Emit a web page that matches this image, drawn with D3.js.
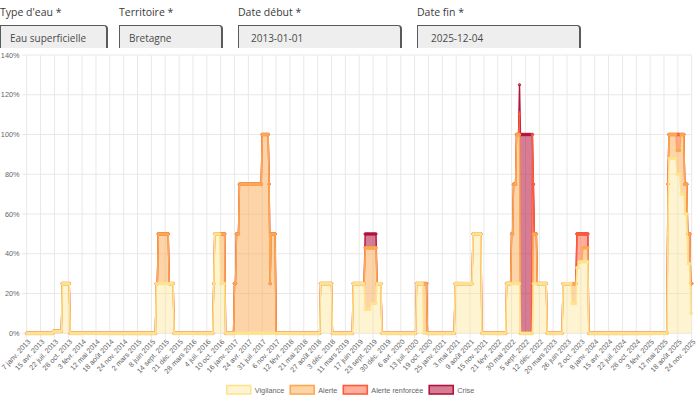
<!DOCTYPE html>
<html>
<head>
<meta charset="utf-8">
<script src="https://cdn.jsdelivr.net/npm/d3@7"></script>
<style>
  body { margin: 0; width: 700px; height: 399px; overflow: hidden; background: #fff; }
  #chart { position: absolute; left: 0; top: 0; }
  .field { position: absolute; top: 0; font-family: "Open Sans", sans-serif; }
  .field .lab { position: absolute; left: 0; top: 5px; font-size: 10.5px; color: #3a3a3a; white-space: nowrap; }
  .field .box { position: absolute; top: 25px; height: 23px; box-sizing: border-box; background: #eee;
    border: 1px solid #5a5a5a; border-bottom: none; border-right-width: 2px; border-radius: 0 4px 0 0;
    font-size: 10px; color: #4a4a4a; line-height: 24px; white-space: nowrap; overflow: hidden; }
</style>
</head>
<body>
<svg id="chart" width="700" height="399"></svg>
<div id="form"></div>
<script>
// filtres affichés au-dessus du graphique
const filterLabels = ["Type d'eau  *", "Territoire  *", "Date début *", "Date fin *"];
const filterValues = ["Eau superficielle", "Bretagne", "2013-01-01", "2025-12-04"];

// semaines (lundis) du premier au dernier point
const firstWeek = "2013-01-07";
const lastWeek = "2025-11-24";
const monthsFr = ["janv.", "févr.", "mars", "avr.", "mai", "juin", "juil.", "août", "sept.", "oct.", "nov.", "déc."];
const yTicks = [0, 20, 40, 60, 80, 100, 120, 140];

const seriesNames = ["Vigilance", "Alerte", "Alerte renforcée", "Crise"];
const seriesColors = ["#fde48c", "#fca94f", "#ff5b3a", "#b3133c"];

// part du territoire (%) par niveau : [semaine du changement, nouvelle valeur]
const vigilance = [
  ["2013-07-15", 1], ["2013-09-16", 25], ["2013-11-11", 0],
  ["2015-07-13", 25], ["2015-11-16", 0],
  ["2016-08-22", 25], ["2016-08-29", 50], ["2016-10-10", 25], ["2016-11-14", 0],
  ["2018-09-17", 25], ["2018-12-10", 0],
  ["2019-05-06", 25], ["2019-07-29", 12], ["2019-09-09", 15], ["2019-10-21", 25], ["2019-11-25", 0],
  ["2020-07-27", 25], ["2020-09-14", 0],
  ["2021-04-26", 25], ["2021-08-30", 50], ["2021-11-01", 0],
  ["2022-04-25", 25], ["2022-08-01", 0], ["2022-10-31", 25], ["2023-02-06", 0],
  ["2023-05-29", 25], ["2023-07-31", 15], ["2023-09-04", 33], ["2023-09-18", 36], ["2023-11-27", 0],
  ["2025-06-09", 50], ["2025-06-16", 88], ["2025-08-11", 80], ["2025-09-08", 70], ["2025-10-06", 60],
  ["2025-10-27", 35], ["2025-11-17", 10]
];
const alerte = [
  ["2015-07-27", 25], ["2015-10-12", 0],
  ["2016-10-10", 25], ["2016-11-14", 0],
  ["2017-01-16", 25], ["2017-01-30", 50], ["2017-02-20", 75], ["2017-07-31", 100], ["2017-09-18", 75],
  ["2017-09-25", 25], ["2017-10-02", 50], ["2017-11-06", 0],
  ["2019-07-29", 31], ["2019-09-09", 28], ["2019-10-21", 0],
  ["2020-09-14", 25], ["2020-10-12", 0],
  ["2022-05-30", 25], ["2022-06-13", 50], ["2022-07-04", 75], ["2022-08-01", 0], ["2022-10-31", 25], ["2022-11-28", 0],
  ["2023-07-31", 10], ["2023-09-04", 0], ["2023-10-16", 7], ["2023-11-27", 0],
  ["2025-06-09", 25], ["2025-06-16", 12], ["2025-09-08", 30], ["2025-10-06", 15]
];
const alerteRenforcee = [
  ["2022-07-25", 11], ["2022-08-01", 0], ["2022-10-24", 100], ["2022-10-31", 25], ["2022-11-07", 0],
  ["2023-09-04", 17], ["2023-09-18", 14], ["2023-10-16", 7], ["2023-11-27", 0],
  ["2025-08-11", 8], ["2025-09-08", 0]
];
const crise = [
  ["2019-07-29", 7], ["2019-10-21", 0],
  ["2022-07-25", 14], ["2022-08-01", 100], ["2022-10-24", 0]
];

// ---- formulaire
const fieldX = [0, 119, 238, 417];
const fieldW = [108, 104, 164, 164];
const fieldPad = [9, 9, 12, 13];
const form = d3.select("#form").selectAll("div").data(filterLabels).join("div")
  .attr("class", "field")
  .style("left", (d, i) => fieldX[i] + "px");
form.append("div").attr("class", "lab").text(d => d);
form.append("div").attr("class", "box")
  .style("width", (d, i) => fieldW[i] + "px")
  .style("padding-left", (d, i) => fieldPad[i] + "px")
  .text((d, i) => filterValues[i]);

// ---- données
const parse = d3.timeParse("%Y-%m-%d");
const weeks = d3.timeMonday.range(parse(firstWeek), d3.timeDay.offset(parse(lastWeek), 1));
const sources = [vigilance, alerte, alerteRenforcee, crise].map(s => s.map(d => [parse(d[0]), d[1]]));
const bis = d3.bisector(d => d[0]).right;
const rows = weeks.map(w => {
  const r = {};
  sources.forEach((s, k) => {
    const j = bis(s, w) - 1;
    r[seriesNames[k]] = j >= 0 ? s[j][1] : 0;
  });
  return r;
});
const layers = d3.stack().keys(seriesNames)(rows);

const frLocale = d3.timeFormatLocale({
  dateTime: "%A %e %B %Y à %X", date: "%d/%m/%Y", time: "%H:%M:%S", periods: ["AM", "PM"],
  days: ["dimanche", "lundi", "mardi", "mercredi", "jeudi", "vendredi", "samedi"],
  shortDays: ["dim.", "lun.", "mar.", "mer.", "jeu.", "ven.", "sam."],
  months: ["janvier", "février", "mars", "avril", "mai", "juin", "juillet", "août", "septembre", "octobre", "novembre", "décembre"],
  shortMonths: monthsFr
});
const fmt = frLocale.format("%-d %b %Y");

// ---- graphique
const svg = d3.select("#chart");
const plotL = 26.7, plotR = 691.7, plotT = 55, plotB = 333.3;
const font = "'Helvetica Neue', Helvetica, Arial, sans-serif";

const x = d3.scalePoint().domain(d3.range(weeks.length)).range([plotL, plotR]);
const y = d3.scaleLinear().domain([0, 140]).range([plotB, plotT]);
const tickIdx = d3.range(0, weeks.length, 14);

// grille
svg.append("g").selectAll("line").data(tickIdx).join("line")
  .attr("x1", d => x(d)).attr("x2", d => x(d))
  .attr("y1", plotT).attr("y2", plotB + 5)
  .attr("stroke", "#e8e8e8").attr("stroke-width", 1);
svg.append("g").selectAll("line").data(yTicks).join("line")
  .attr("x1", plotL - 5).attr("x2", plotR)
  .attr("y1", d => y(d)).attr("y2", d => y(d))
  .attr("stroke", "#e8e8e8").attr("stroke-width", 1);

// axe Y
svg.append("g").selectAll("text").data(yTicks).join("text")
  .attr("x", 19.5).attr("y", d => y(d)).attr("dy", "0.35em")
  .attr("text-anchor", "end")
  .attr("font-family", font).attr("font-size", 7.3).attr("fill", "#666")
  .text(d => d + "%");

// axe X
svg.append("g").selectAll("text").data(tickIdx).join("text")
  .attr("transform", d => `translate(${x(d) + 2.5},${plotB + 7}) rotate(-47)`)
  .attr("text-anchor", "end").attr("dy", "0.35em")
  .attr("font-family", font).attr("font-size", 7.2).attr("fill", "#666")
  .text(d => fmt(weeks[d]));

// séries (la première dessinée en dernier, comme Chart.js)
const area = d3.area().x((d, i) => x(i)).y0(d => y(d[0])).y1(d => y(d[1]));
const line = d3.line().x((d, i) => x(i)).y(d => y(d[1]));
const fillAlpha = [0.4, 0.5, 0.5, 0.55];

d3.range(layers.length).reverse().forEach(k => {
  const g = svg.append("g");
  const c = seriesColors[k];
  g.append("path").datum(layers[k])
    .attr("d", area).attr("fill", c).attr("fill-opacity", fillAlpha[k]);
  g.append("path").datum(layers[k])
    .attr("d", line).attr("fill", "none").attr("stroke", c).attr("stroke-width", 1.4);
  g.selectAll("circle").data(layers[k]).join("circle")
    .attr("cx", (d, i) => x(i)).attr("cy", d => y(d[1])).attr("r", 1.25)
    .attr("fill", c).attr("fill-opacity", 0.6).attr("stroke", c).attr("stroke-width", 0.7);
});

// légende
const leg = svg.append("g");
let lx = 0;
seriesNames.forEach((name, k) => {
  const it = leg.append("g").attr("transform", `translate(${lx},0)`);
  it.append("rect").attr("x", 1).attr("y", 385.5).attr("width", 24).attr("height", 8.5)
    .attr("fill", seriesColors[k]).attr("fill-opacity", fillAlpha[k])
    .attr("stroke", seriesColors[k]).attr("stroke-width", 1.6);
  const t = it.append("text").attr("x", 29).attr("y", 392.5)
    .attr("font-family", font).attr("font-size", 7.3).attr("fill", "#666").text(name);
  lx += 29 + t.node().getComputedTextLength() + 5;
});
leg.attr("transform", `translate(${350 - (lx - 5) / 2},0)`);
</script>
</body>
</html>
